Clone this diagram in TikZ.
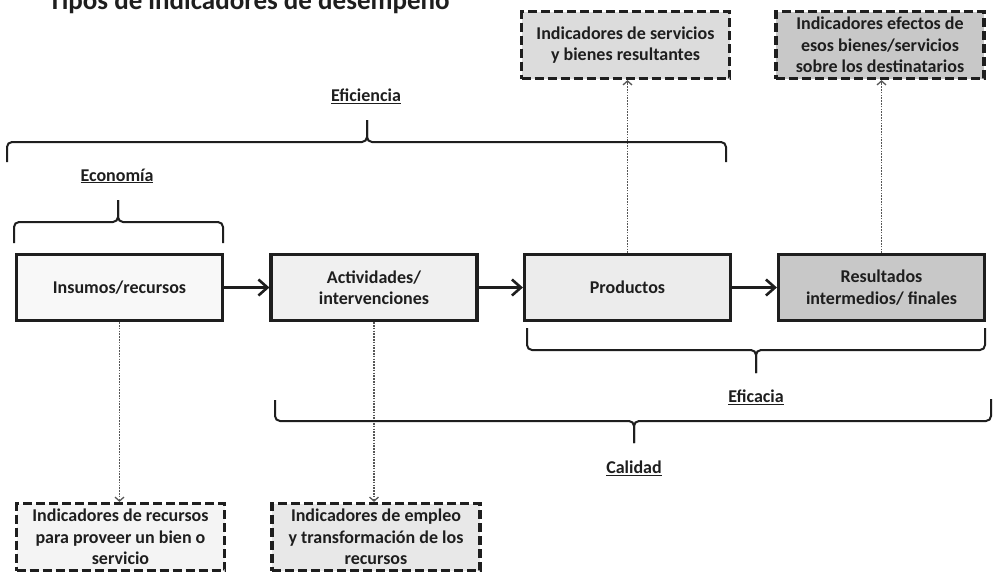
\documentclass[tikz,border=0pt]{standalone}
\usepackage{fontspec}
\setmainfont{Carlito}
\usetikzlibrary{arrows.meta}
\definecolor{ink}{HTML}{1E1E1E}
\definecolor{fillA}{HTML}{F8F8F8}
\definecolor{fillB}{HTML}{F0F0F0}
\definecolor{fillC}{HTML}{ECECEC}
\definecolor{fillD}{HTML}{C8C8C8}
\definecolor{fillE}{HTML}{DCDCDC}
\definecolor{fillF}{HTML}{F4F4F4}
\definecolor{fillG}{HTML}{E8E8E8}
\begin{document}
\begin{tikzpicture}[x=1pt,y=-1pt,
  txt/.style={text=ink, font=\fontsize{18}{21.5}\selectfont\bfseries, align=center},
  stage/.style={txt, draw=ink, line width=3.2pt, minimum width=206pt, minimum height=66pt, inner sep=0pt},
  indbox/.style={txt, draw=ink, line width=3.2pt, dash pattern=on 9pt off 4pt, minimum width=208pt, minimum height=67pt, inner sep=0pt},
  flow/.style={draw=ink, line width=3pt, -{Straight Barb[length=9pt,width=16pt,line width=2.6pt]}},
  link/.style={draw=ink!75, line width=1.6pt, dash pattern=on 1.6pt off 1.2pt, -{Straight Barb[length=4pt,width=9pt,line width=1.3pt]}},
  brace/.style={draw=ink, line width=2pt, rounded corners=5pt},
  tag/.style={txt}
]
\useasboundingbox (0,0) rectangle (1000,574);
\fill[white] (0,0) rectangle (1000,574);

% heading
\node[anchor=base, text=ink, font=\fontsize{27}{30}\selectfont\bfseries] (title) at (249,9) {Tipos de indicadores de desempeño};

% chain of stages
\node[stage, fill=fillA] (ins)  at (119.5,287.5) {Insumos/recursos};
\node[stage, fill=fillB] (act)  at (374,287.5)   {Actividades/\\intervenciones};
\node[stage, fill=fillC] (prod) at (627.5,287.5) {Productos};
\node[stage, fill=fillD] (res)  at (881.5,287.5) {Resultados\\intermedios/ finales};

\draw[flow] (ins) -- (act);
\draw[flow] (act) -- (prod);
\draw[flow] (prod) -- (res);

% indicator boxes
\node[indbox, fill=fillE] (top1) at (625.5,45) {Indicadores de servicios\\y bienes resultantes};
\node[indbox, fill=fillD] (top2) at (880,45)   {Indicadores efectos de\\esos bienes/servicios\\sobre los destinatarios};
\node[indbox, fill=fillF] (bot1) at (120.5,537) {Indicadores de recursos\\para proveer un bien o\\servicio};
\node[indbox, fill=fillG] (bot2) at (376,537)   {Indicadores de empleo\\y transformación de los\\recursos};

\draw[link] (prod.north) -- (prod.north |- top1.south);
\draw[link] (res.north) -- (res.north |- top2.south);
\draw[link] (ins.south) -- (ins.south |- bot1.north);
\draw[link] (act.south) -- (act.south |- bot2.north);

% braces
\draw[brace] (7,162) -- (7,142) -- (367,142) -- (367,120);
\draw[brace] (367,120) -- (367,142) -- (726,142) -- (726,162);
\draw[brace] (14,243) -- (14,222) -- (118,222) -- (118,200);
\draw[brace] (118,200) -- (118,222) -- (223,222) -- (223,243);
\draw[brace] (527,328) -- (527,350) -- (756,350) -- (756,373);
\draw[brace] (756,373) -- (756,350) -- (985,350) -- (985,328);
\draw[brace] (275,400) -- (275,421) -- (634,421) -- (634,443);
\draw[brace] (634,443) -- (634,421) -- (991,421) -- (991,399);

% brace labels
\node[tag] (efi)  at (366,96)  {\underline{Eficiencia}};
\node[tag] (eco)  at (117,176) {\underline{Economía}};
\node[tag] (efc)  at (756,397) {\underline{Eficacia}};
\node[tag] (cal)  at (634,468) {\underline{Calidad}};
\end{tikzpicture}
\end{document}
